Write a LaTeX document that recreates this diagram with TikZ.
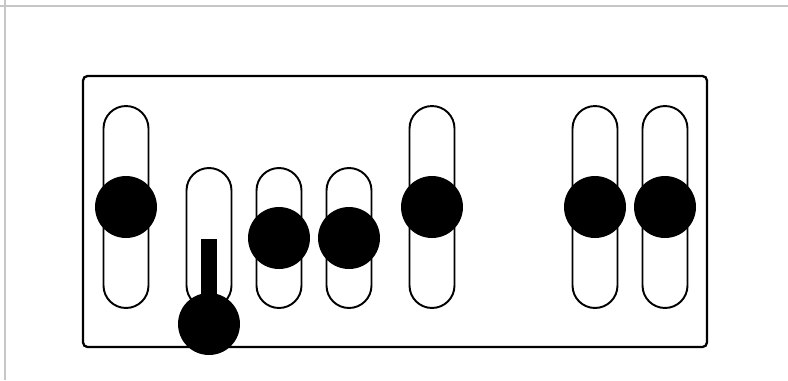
\documentclass[tikz,border=0pt]{standalone}
\usepackage{tikz}

\begin{document}
\begin{tikzpicture}[x=0.02cm, y=-0.02cm,
  frame/.style={draw=gray!45, line width=0.7pt},
  panel/.style={draw, line width=1.3pt, rounded corners=2.5pt, inner sep=0pt,
    minimum width=12.48cm, minimum height=5.42cm},
  slot/.style={draw, line width=1.1pt, inner sep=0pt, minimum width=0.9cm,
    rounded corners=0.449cm},
  tallslot/.style={slot, minimum height=4.04cm},
  shortslot/.style={slot, minimum height=2.8cm},
  knob/.style={circle, fill=black, inner sep=0pt, minimum size=1.24cm},
  stem/.style={fill=black, inner sep=0pt, minimum width=0.32cm, minimum height=1.7cm}]
  \useasboundingbox (0,0) rectangle (788,380);
  \draw[frame] (0,6) -- (788,6);
  \draw[frame] (5,0) -- (5,380);
  \node[panel] (panel) at (395,211.5) {};
  % slots
  \node[tallslot] (s1) at (126,207) {};
  \node[shortslot] (s2) at (209,238) {};
  \node[shortslot] (s3) at (279,238) {};
  \node[shortslot] (s4) at (349,238) {};
  \node[tallslot] (s5) at (432,207) {};
  \node[tallslot] (s6) at (595,207) {};
  \node[tallslot] (s7) at (665,207) {};
  % knobs
  \node[knob] (k1) at (s1) {};
  \node[knob] (k2) at (209,324) {};
  \node[stem, anchor=south] (st2) at (k2.center) {};
  \node[knob] (k3) at (s3) {};
  \node[knob] (k4) at (s4) {};
  \node[knob] (k5) at (s5) {};
  \node[knob] (k6) at (s6) {};
  \node[knob] (k7) at (s7) {};
\end{tikzpicture}
\end{document}
